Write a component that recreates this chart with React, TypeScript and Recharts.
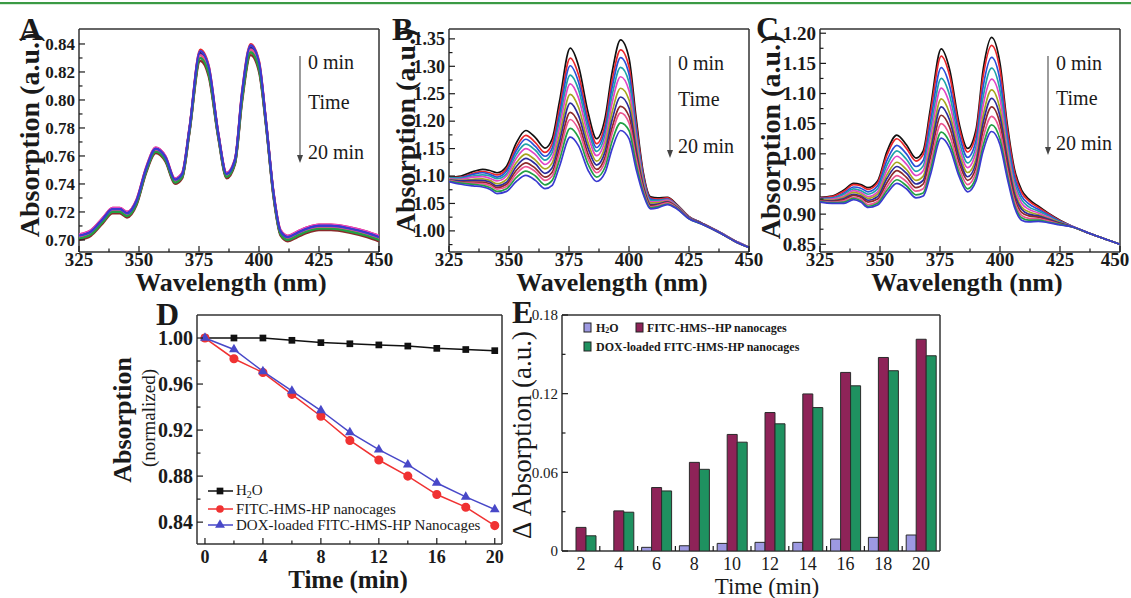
import React from "react";
import { LineChart, Line, BarChart, Bar, XAxis, YAxis, CartesianGrid, Symbols } from "recharts";

const SERIF = '"Liberation Serif", "Times New Roman", Times, serif';
const INK = "#1a1a1a";

// ---------- spectra panels A, B, C ----------
const wavelengths = [325, 330, 335, 339, 342, 345, 349, 353, 357, 361, 365, 368, 371, 375.5, 379, 383, 386.5, 390, 393, 396.5, 400, 403, 406, 409, 412, 416, 420, 425, 430, 438, 445, 450];
const spectraTimes = ["0 min", "2 min", "4 min", "6 min", "8 min", "10 min", "12 min", "14 min", "16 min", "18 min", "20 min"];
const spectraColors = ["#111111", "#e8262b", "#2b4fd8", "#1fa3a8", "#e045c6", "#a6a61e", "#2c2c9c", "#8b2a2a", "#ec5590", "#22a044", "#3a3ad0"];
const wlMajor = [325, 350, 375, 400, 425, 450];
const wlMinor = [337.5, 362.5, 387.5, 412.5, 437.5];

// one row per wavelength, columns 0 min -> 20 min
const absA = [
  [0.703, 0.704, 0.701, 0.702, 0.704, 0.701, 0.703, 0.700, 0.702, 0.701, 0.703],
  [0.706, 0.707, 0.704, 0.705, 0.707, 0.704, 0.706, 0.703, 0.705, 0.704, 0.706],
  [0.715, 0.716, 0.713, 0.714, 0.716, 0.713, 0.715, 0.712, 0.714, 0.713, 0.715],
  [0.722, 0.723, 0.720, 0.721, 0.723, 0.720, 0.722, 0.719, 0.721, 0.720, 0.722],
  [0.722, 0.723, 0.720, 0.721, 0.723, 0.720, 0.722, 0.719, 0.721, 0.720, 0.722],
  [0.719, 0.720, 0.717, 0.718, 0.720, 0.717, 0.719, 0.716, 0.718, 0.717, 0.719],
  [0.728, 0.729, 0.726, 0.727, 0.729, 0.726, 0.728, 0.725, 0.727, 0.726, 0.728],
  [0.751, 0.752, 0.749, 0.750, 0.752, 0.749, 0.751, 0.748, 0.750, 0.749, 0.751],
  [0.765, 0.766, 0.763, 0.764, 0.766, 0.763, 0.765, 0.762, 0.764, 0.763, 0.765],
  [0.759, 0.760, 0.757, 0.758, 0.760, 0.757, 0.759, 0.756, 0.758, 0.757, 0.759],
  [0.743, 0.744, 0.741, 0.742, 0.744, 0.741, 0.743, 0.740, 0.742, 0.741, 0.743],
  [0.747, 0.748, 0.745, 0.746, 0.748, 0.745, 0.747, 0.744, 0.746, 0.745, 0.747],
  [0.779, 0.780, 0.777, 0.778, 0.780, 0.777, 0.779, 0.776, 0.778, 0.777, 0.779],
  [0.834, 0.836, 0.830, 0.832, 0.835, 0.830, 0.833, 0.828, 0.832, 0.830, 0.835],
  [0.823, 0.825, 0.819, 0.821, 0.824, 0.819, 0.822, 0.817, 0.821, 0.819, 0.824],
  [0.776, 0.777, 0.774, 0.775, 0.777, 0.774, 0.776, 0.773, 0.775, 0.774, 0.776],
  [0.747, 0.748, 0.745, 0.746, 0.748, 0.745, 0.747, 0.744, 0.746, 0.745, 0.747],
  [0.757, 0.758, 0.755, 0.756, 0.758, 0.755, 0.757, 0.754, 0.756, 0.755, 0.757],
  [0.805, 0.807, 0.801, 0.803, 0.806, 0.801, 0.804, 0.799, 0.803, 0.801, 0.806],
  [0.838, 0.840, 0.834, 0.836, 0.839, 0.834, 0.837, 0.832, 0.836, 0.834, 0.839],
  [0.826, 0.828, 0.822, 0.824, 0.827, 0.822, 0.825, 0.820, 0.824, 0.822, 0.827],
  [0.783, 0.784, 0.781, 0.782, 0.784, 0.781, 0.783, 0.780, 0.782, 0.781, 0.783],
  [0.734, 0.735, 0.732, 0.733, 0.735, 0.732, 0.734, 0.731, 0.733, 0.732, 0.734],
  [0.706, 0.707, 0.704, 0.705, 0.707, 0.704, 0.706, 0.703, 0.705, 0.704, 0.706],
  [0.702, 0.703, 0.700, 0.701, 0.703, 0.700, 0.702, 0.699, 0.701, 0.700, 0.702],
  [0.705, 0.706, 0.703, 0.704, 0.706, 0.703, 0.705, 0.702, 0.704, 0.703, 0.705],
  [0.708, 0.709, 0.706, 0.707, 0.709, 0.706, 0.708, 0.705, 0.707, 0.706, 0.708],
  [0.710, 0.711, 0.708, 0.709, 0.711, 0.708, 0.710, 0.707, 0.709, 0.708, 0.710],
  [0.710, 0.711, 0.708, 0.709, 0.711, 0.708, 0.710, 0.707, 0.709, 0.708, 0.710],
  [0.708, 0.709, 0.706, 0.707, 0.709, 0.706, 0.708, 0.705, 0.707, 0.706, 0.708],
  [0.705, 0.706, 0.703, 0.704, 0.706, 0.703, 0.705, 0.702, 0.704, 0.703, 0.705],
  [0.702, 0.703, 0.700, 0.701, 0.703, 0.700, 0.702, 0.699, 0.701, 0.700, 0.702],
];

const absB = [
  [1.098, 1.097, 1.096, 1.096, 1.095, 1.094, 1.093, 1.092, 1.092, 1.091, 1.090],
  [1.100, 1.098, 1.097, 1.096, 1.094, 1.092, 1.091, 1.089, 1.088, 1.087, 1.085],
  [1.108, 1.105, 1.103, 1.100, 1.098, 1.094, 1.092, 1.089, 1.087, 1.085, 1.082],
  [1.112, 1.108, 1.106, 1.102, 1.099, 1.095, 1.092, 1.089, 1.086, 1.083, 1.080],
  [1.110, 1.106, 1.103, 1.100, 1.096, 1.092, 1.089, 1.086, 1.083, 1.079, 1.076],
  [1.106, 1.102, 1.098, 1.095, 1.091, 1.086, 1.082, 1.079, 1.076, 1.072, 1.068],
  [1.118, 1.113, 1.109, 1.104, 1.100, 1.094, 1.089, 1.085, 1.081, 1.077, 1.072],
  [1.160, 1.152, 1.146, 1.139, 1.132, 1.124, 1.117, 1.110, 1.104, 1.097, 1.090],
  [1.183, 1.174, 1.167, 1.158, 1.150, 1.140, 1.132, 1.124, 1.117, 1.109, 1.101],
  [1.170, 1.161, 1.154, 1.147, 1.139, 1.129, 1.122, 1.114, 1.108, 1.100, 1.092],
  [1.151, 1.143, 1.136, 1.129, 1.121, 1.113, 1.105, 1.098, 1.092, 1.084, 1.077],
  [1.168, 1.159, 1.151, 1.143, 1.134, 1.124, 1.115, 1.107, 1.100, 1.092, 1.083],
  [1.235, 1.222, 1.211, 1.200, 1.188, 1.174, 1.162, 1.150, 1.141, 1.129, 1.117],
  [1.333, 1.315, 1.301, 1.284, 1.268, 1.249, 1.233, 1.216, 1.203, 1.187, 1.171],
  [1.300, 1.284, 1.271, 1.257, 1.242, 1.225, 1.210, 1.196, 1.184, 1.170, 1.155],
  [1.215, 1.203, 1.194, 1.184, 1.173, 1.160, 1.150, 1.139, 1.131, 1.121, 1.110],
  [1.168, 1.159, 1.152, 1.145, 1.137, 1.127, 1.120, 1.112, 1.106, 1.098, 1.090],
  [1.205, 1.194, 1.185, 1.175, 1.165, 1.154, 1.144, 1.134, 1.126, 1.116, 1.106],
  [1.290, 1.275, 1.262, 1.248, 1.234, 1.217, 1.203, 1.189, 1.178, 1.164, 1.150],
  [1.348, 1.330, 1.316, 1.298, 1.281, 1.260, 1.244, 1.227, 1.215, 1.197, 1.183],
  [1.315, 1.299, 1.286, 1.271, 1.256, 1.239, 1.224, 1.209, 1.197, 1.183, 1.168],
  [1.205, 1.195, 1.186, 1.177, 1.168, 1.157, 1.147, 1.138, 1.131, 1.121, 1.112],
  [1.105, 1.101, 1.097, 1.093, 1.089, 1.085, 1.081, 1.077, 1.074, 1.070, 1.066],
  [1.062, 1.060, 1.058, 1.055, 1.053, 1.051, 1.048, 1.046, 1.044, 1.042, 1.040],
  [1.060, 1.058, 1.056, 1.055, 1.053, 1.051, 1.049, 1.047, 1.046, 1.044, 1.042],
  [1.061, 1.060, 1.058, 1.057, 1.056, 1.054, 1.053, 1.052, 1.051, 1.049, 1.048],
  [1.048, 1.047, 1.046, 1.046, 1.045, 1.044, 1.043, 1.042, 1.042, 1.041, 1.040],
  [1.026, 1.026, 1.025, 1.025, 1.024, 1.024, 1.024, 1.023, 1.023, 1.022, 1.022],
  [1.015, 1.015, 1.015, 1.014, 1.014, 1.014, 1.014, 1.014, 1.013, 1.013, 1.013],
  [0.997, 0.997, 0.997, 0.997, 0.997, 0.996, 0.996, 0.996, 0.996, 0.996, 0.996],
  [0.980, 0.980, 0.980, 0.980, 0.980, 0.979, 0.979, 0.979, 0.979, 0.979, 0.979],
  [0.970, 0.970, 0.970, 0.970, 0.970, 0.970, 0.970, 0.970, 0.970, 0.970, 0.970],
];

const absC = [
  [0.928, 0.927, 0.926, 0.925, 0.924, 0.924, 0.923, 0.922, 0.921, 0.921, 0.920],
  [0.930, 0.929, 0.927, 0.926, 0.925, 0.923, 0.922, 0.921, 0.920, 0.919, 0.918],
  [0.940, 0.938, 0.935, 0.933, 0.930, 0.928, 0.926, 0.924, 0.922, 0.920, 0.918],
  [0.951, 0.949, 0.945, 0.942, 0.939, 0.936, 0.933, 0.931, 0.928, 0.926, 0.924],
  [0.949, 0.947, 0.943, 0.939, 0.936, 0.933, 0.930, 0.928, 0.925, 0.922, 0.920],
  [0.944, 0.941, 0.937, 0.933, 0.929, 0.926, 0.923, 0.920, 0.916, 0.913, 0.911],
  [0.955, 0.952, 0.947, 0.942, 0.937, 0.933, 0.929, 0.925, 0.921, 0.918, 0.915],
  [1.005, 0.999, 0.990, 0.982, 0.974, 0.966, 0.960, 0.953, 0.946, 0.940, 0.935],
  [1.031, 1.025, 1.014, 1.005, 0.996, 0.986, 0.979, 0.972, 0.964, 0.957, 0.951],
  [1.015, 1.009, 1.000, 0.991, 0.983, 0.974, 0.968, 0.961, 0.954, 0.947, 0.942],
  [0.993, 0.988, 0.979, 0.971, 0.964, 0.956, 0.950, 0.944, 0.938, 0.932, 0.927],
  [1.005, 0.999, 0.989, 0.980, 0.972, 0.963, 0.956, 0.950, 0.942, 0.935, 0.930],
  [1.075, 1.066, 1.052, 1.039, 1.027, 1.013, 1.004, 0.994, 0.983, 0.973, 0.965],
  [1.174, 1.162, 1.143, 1.125, 1.109, 1.091, 1.078, 1.064, 1.050, 1.036, 1.026],
  [1.140, 1.130, 1.113, 1.097, 1.083, 1.067, 1.056, 1.044, 1.031, 1.019, 1.010],
  [1.050, 1.043, 1.032, 1.021, 1.011, 1.001, 0.993, 0.985, 0.976, 0.968, 0.962],
  [1.009, 1.003, 0.994, 0.985, 0.977, 0.969, 0.962, 0.956, 0.949, 0.942, 0.937],
  [1.040, 1.033, 1.022, 1.012, 1.003, 0.992, 0.985, 0.977, 0.969, 0.961, 0.955],
  [1.140, 1.129, 1.112, 1.095, 1.081, 1.064, 1.052, 1.040, 1.027, 1.014, 1.005],
  [1.193, 1.180, 1.160, 1.142, 1.124, 1.106, 1.092, 1.078, 1.062, 1.048, 1.037],
  [1.150, 1.139, 1.122, 1.105, 1.091, 1.074, 1.062, 1.050, 1.037, 1.024, 1.015],
  [1.050, 1.043, 1.031, 1.020, 1.010, 1.000, 0.992, 0.983, 0.974, 0.966, 0.960],
  [0.975, 0.970, 0.962, 0.954, 0.947, 0.940, 0.934, 0.928, 0.922, 0.916, 0.912],
  [0.940, 0.936, 0.930, 0.924, 0.918, 0.912, 0.908, 0.903, 0.898, 0.894, 0.890],
  [0.925, 0.922, 0.917, 0.912, 0.908, 0.904, 0.900, 0.897, 0.893, 0.890, 0.887],
  [0.913, 0.911, 0.908, 0.905, 0.902, 0.899, 0.897, 0.895, 0.892, 0.890, 0.888],
  [0.902, 0.901, 0.899, 0.897, 0.895, 0.893, 0.892, 0.890, 0.889, 0.887, 0.886],
  [0.890, 0.889, 0.888, 0.887, 0.886, 0.886, 0.885, 0.884, 0.883, 0.883, 0.882],
  [0.880, 0.880, 0.880, 0.880, 0.880, 0.879, 0.879, 0.879, 0.879, 0.879, 0.879],
  [0.867, 0.867, 0.867, 0.867, 0.867, 0.867, 0.867, 0.867, 0.867, 0.867, 0.867],
  [0.857, 0.857, 0.857, 0.857, 0.857, 0.857, 0.857, 0.857, 0.857, 0.857, 0.857],
  [0.850, 0.850, 0.850, 0.850, 0.850, 0.850, 0.850, 0.850, 0.850, 0.850, 0.850],
];

const yMajorA = [0.70, 0.72, 0.74, 0.76, 0.78, 0.80, 0.82, 0.84];
const yMinorA = [0.71, 0.73, 0.75, 0.77, 0.79, 0.81, 0.83];
const yMajorB = [1.00, 1.05, 1.10, 1.15, 1.20, 1.25, 1.30, 1.35];
const yMinorB = [0.975, 1.025, 1.075, 1.125, 1.175, 1.225, 1.275, 1.325];
const yMajorC = [0.85, 0.90, 0.95, 1.00, 1.05, 1.10, 1.15, 1.20];
const yMinorC = [0.875, 0.925, 0.975, 1.025, 1.075, 1.125, 1.175];

// ---------- panel D ----------
const dTimes = [0, 2, 4, 6, 8, 10, 12, 14, 16, 18, 20];
const dH2O = [1.000, 1.000, 1.000, 0.998, 0.996, 0.995, 0.994, 0.993, 0.991, 0.990, 0.989];
const dFITC = [1.000, 0.982, 0.970, 0.951, 0.932, 0.911, 0.894, 0.880, 0.864, 0.853, 0.837];
const dDOX = [1.000, 0.990, 0.971, 0.954, 0.937, 0.918, 0.903, 0.890, 0.874, 0.862, 0.851];
const dNames = ["H2O", "FITC-HMS-HP nanocages", "DOX-loaded FITC-HMS-HP Nanocages"];
const dXMajor = [0, 4, 8, 12, 16, 20];
const dXMinor = [2, 6, 10, 14, 18];
const dYMajor = [0.84, 0.88, 0.92, 0.96, 1.00];
const dYMinor = [0.86, 0.90, 0.94, 0.98];

// ---------- panel E ----------
const eTimes = ["2", "4", "6", "8", "10", "12", "14", "16", "18", "20"];
const eH2O = [0, 0, 0.0028, 0.0040, 0.0058, 0.0066, 0.0066, 0.0091, 0.0104, 0.0122];
const eFITC = [0.0180, 0.0306, 0.0484, 0.0676, 0.0889, 0.1056, 0.1198, 0.1362, 0.1476, 0.1615];
const eDOX = [0.0116, 0.0296, 0.0458, 0.0623, 0.0830, 0.0970, 0.1094, 0.1260, 0.1375, 0.1489];
const eNames = ["H2O", "FITC-HMS--HP nanocages", "DOX-loaded FITC-HMS-HP nanocages"];
const eYMajor = [0, 0.06, 0.12, 0.18];
const eYMinor = [0.03, 0.09, 0.15];

const eColors = ["#9d99e2", "#8e2358", "#1f9160"];

// ---------- helpers ----------
const sorted = (a: number[], b: number[]) => [...a, ...b].sort((x, y) => x - y);
const isIn = (list: number[], v: number) => list.some((m) => Math.abs(m - v) < 1e-9);
const fmt2 = (v: number) => v.toFixed(2);

const frameH = ({ offset }: any) => [offset.top, offset.top + offset.height];
const frameV = ({ offset }: any) => [offset.left, offset.left + offset.width];

type TickOpts = { fontSize: number; bold?: boolean; lastDx?: number };

const bottomTick =
  (plotBottom: number, majors: number[], dy: number, fmt: (v: number) => string, o: TickOpts) =>
  (props: any) => {
    const { x, payload } = props;
    const v = payload.value as number;
    const major = isIn(majors, v);
    const dx = v === majors[majors.length - 1] ? o.lastDx || 0 : 0;
    return (
      <g>
        <line x1={x} x2={x} y1={plotBottom} y2={plotBottom - (major ? 6 : 3.5)} stroke={INK} strokeWidth={1.2} />
        {major && (
          <text
            x={x + dx}
            y={plotBottom + dy}
            textAnchor="middle"
            fontSize={o.fontSize}
            fontWeight={o.bold ? "bold" : "normal"}
            fontFamily={SERIF}
            fill={INK}
          >
            {fmt(v)}
          </text>
        )}
      </g>
    );
  };

const leftTick =
  (plotLeft: number, majors: number[], fmt: (v: number) => string, o: TickOpts) =>
  (props: any) => {
    const { y, payload } = props;
    const v = payload.value as number;
    const major = isIn(majors, v);
    return (
      <g>
        <line x1={plotLeft} x2={plotLeft + (major ? 6 : 3.5)} y1={y} y2={y} stroke={INK} strokeWidth={1.2} />
        {major && (
          <text
            x={plotLeft - 4}
            y={y}
            dy="0.35em"
            textAnchor="end"
            fontSize={o.fontSize}
            fontWeight={o.bold ? "bold" : "normal"}
            fontFamily={SERIF}
            fill={INK}
          >
            {fmt(v)}
          </text>
        )}
      </g>
    );
  };

// spectra chart geometry
const SPEC_W = 400;
const SPEC_H = 300;
const SPEC_L = 79;
const SPEC_T = 29;
const SPEC_B = 252;

type SpecProps = {
  left: number;
  rows: number[][];
  domain: [number, number];
  yMajor: number[];
  yMinor: number[];
  yFont: number;
  width?: number;
  lastDx?: number;
  lineWidth?: number;
};

function SpectrumPanel({ left, rows, domain, yMajor, yMinor, yFont, width = SPEC_W, lastDx = 0, lineWidth = 1.7 }: SpecProps) {
  const data = wavelengths.map((w, i) => {
    const row: Record<string, number> = { w };
    rows[i].forEach((v, k) => {
      row["c" + k] = v;
    });
    return row;
  });
  return (
    <div style={{ position: "absolute", left, top: 0 }}>
      <LineChart width={width} height={SPEC_H} data={data} margin={{ top: SPEC_T, right: width - SPEC_L - 300, bottom: 0, left: 0 }}>
        <CartesianGrid horizontalCoordinatesGenerator={frameH} verticalCoordinatesGenerator={frameV} stroke="#333" strokeWidth={1.5} />
        <XAxis
          dataKey="w"
          type="number"
          domain={[325, 450]}
          ticks={sorted(wlMajor, wlMinor)}
          interval={0}
          height={SPEC_H - SPEC_B}
          axisLine={false}
          tickLine={false}
          allowDataOverflow
          tick={bottomTick(SPEC_B, wlMajor, 14, (v) => String(v), { fontSize: 19, bold: true, lastDx })}
        />
        <YAxis
          type="number"
          domain={domain}
          ticks={sorted(yMajor, yMinor)}
          interval={0}
          width={SPEC_L}
          axisLine={false}
          tickLine={false}
          allowDataOverflow
          tick={leftTick(SPEC_L, yMajor, fmt2, { fontSize: yFont, bold: true })}
        />
        {spectraTimes.map((t, k) => (
          <Line
            key={t}
            dataKey={"c" + k}
            name={t}
            type="monotone"
            stroke={spectraColors[k]}
            strokeWidth={lineWidth}
            dot={false}
            isAnimationActive={false}
          />
        ))}
      </LineChart>
    </div>
  );
}

const squareDot = (color: string) => (p: any) =>
  <Symbols key={"sq" + p.index} cx={p.cx} cy={p.cy} type="square" size={45} fill={color} stroke="none" />;
const triDot = (color: string) => (p: any) =>
  <Symbols key={"tr" + p.index} cx={p.cx} cy={p.cy} type="triangle" size={42} fill={color} stroke="none" />;

function DecayPanel() {
  const data = dTimes.map((t, i) => ({ t, h2o: dH2O[i], fitc: dFITC[i], dox: dDOX[i] }));
  return (
    <div style={{ position: "absolute", left: 100, top: 300 }}>
      <LineChart width={415} height={298} data={data} margin={{ top: 15, right: 13, bottom: 0, left: 0 }}>
        <CartesianGrid horizontalCoordinatesGenerator={frameH} verticalCoordinatesGenerator={frameV} stroke="#333" strokeWidth={1.5} />
        <XAxis
          dataKey="t"
          type="number"
          domain={[-0.55, 20.5]}
          ticks={sorted(dXMajor, dXMinor)}
          interval={0}
          height={54}
          axisLine={false}
          tickLine={false}
          allowDataOverflow
          tick={bottomTick(244, dXMajor, 19, (v) => String(v), { fontSize: 18, bold: true })}
        />
        <YAxis
          type="number"
          domain={[0.821, 1.02]}
          ticks={sorted(dYMajor, dYMinor)}
          interval={0}
          width={97}
          axisLine={false}
          tickLine={false}
          allowDataOverflow
          tick={leftTick(97, dYMajor, fmt2, { fontSize: 20, bold: true })}
        />
        <Line dataKey="h2o" name={dNames[0]} stroke="#111" strokeWidth={1.5} dot={squareDot("#111")} isAnimationActive={false} />
        <Line dataKey="fitc" name={dNames[1]} stroke="#f03232" strokeWidth={1.5} dot={{ r: 3.8, fill: "#f03232", stroke: "#f03232" }} isAnimationActive={false} />
        <Line dataKey="dox" name={dNames[2]} stroke="#4848c8" strokeWidth={1.5} dot={triDot("#4848c8")} isAnimationActive={false} />
      </LineChart>
    </div>
  );
}

const E_PLOT_W = 378;

function BarPanel() {
  const data = eTimes.map((t, i) => ({ t, h2o: eH2O[i], fitc: eFITC[i], dox: eDOX[i] }));
  const band = E_PLOT_W / eTimes.length;
  const catTick = (props: any) => {
    const { x, index } = props;
    return (
      <g>
        {index < eTimes.length - 1 && (
          <line x1={x + band / 2} x2={x + band / 2} y1={251} y2={246} stroke={INK} strokeWidth={1.2} />
        )}
        <text x={x} y={270} textAnchor="middle" fontSize={18} fontFamily={SERIF} fill={INK}>
          {props.payload.value}
        </text>
      </g>
    );
  };
  return (
    <div style={{ position: "absolute", left: 510, top: 300 }}>
      <BarChart width={440} height={298} data={data} margin={{ top: 15, right: 10, bottom: 0, left: 0 }} barCategoryGap={4} barGap={0}>
        <CartesianGrid horizontalCoordinatesGenerator={frameH} verticalCoordinatesGenerator={frameV} stroke="#333" strokeWidth={1.5} />
        <XAxis dataKey="t" height={47} interval={0} axisLine={false} tickLine={false} tick={catTick} />
        <YAxis
          type="number"
          domain={[0, 0.18]}
          ticks={sorted(eYMajor, eYMinor)}
          interval={0}
          width={52}
          axisLine={false}
          tickLine={false}
          allowDataOverflow
          tick={leftTick(52, eYMajor, (v) => (v === 0 ? "0" : v.toFixed(2)), { fontSize: 15 })}
        />
        <Bar dataKey="h2o" name={eNames[0]} fill={eColors[0]} stroke="#2a2a2a" strokeWidth={1} isAnimationActive={false} />
        <Bar dataKey="fitc" name={eNames[1]} fill={eColors[1]} stroke="#2a2a2a" strokeWidth={1} isAnimationActive={false} />
        <Bar dataKey="dox" name={eNames[2]} fill={eColors[2]} stroke="#2a2a2a" strokeWidth={1} isAnimationActive={false} />
      </BarChart>
    </div>
  );
}

function H2O({ x, y, size, sub }: { x: number; y: number; size: number; sub: number }) {
  return (
    <text x={x} y={y} fontSize={size} fontFamily={SERIF} fill={INK} dominantBaseline="central">
      H<tspan fontSize={sub} dy={4}>2</tspan>
      <tspan dy={-4}>O</tspan>
    </text>
  );
}

function TimeArrow({ x, y1, y2, labels }: { x: number; y1: number; y2: number; labels: number[] }) {
  return (
    <g>
      <line x1={x} x2={x} y1={y1} y2={y2 - 6} stroke="#666" strokeWidth={1.3} />
      <polygon points={`${x},${y2} ${x - 3},${y2 - 8} ${x + 3},${y2 - 8}`} fill="#444" />
      {[spectraTimes[0], "Time", spectraTimes[spectraTimes.length - 1]].map((t, i) => (
        <text key={t} x={x + 8} y={labels[i]} fontSize={20} fontFamily={SERIF} fill={INK} dominantBaseline="central">
          {t}
        </text>
      ))}
    </g>
  );
}

function Overlay() {
  const txt = { fontFamily: SERIF, fill: INK };
  return (
    <svg width={1131} height={598} style={{ position: "absolute", left: 0, top: 0, pointerEvents: "none" }}>
      <rect x={0} y={2} width={1131} height={2.2} fill="#3a9a44" />
      {/* panel letters */}
      <text x={19} y={40} fontSize={32} fontWeight="bold" {...txt}>A</text>
      <text x={392} y={40} fontSize={32} fontWeight="bold" {...txt}>B</text>
      <text x={756} y={39} fontSize={32} fontWeight="bold" {...txt}>C</text>
      <text x={156} y={325} fontSize={32} fontWeight="bold" {...txt}>D</text>
      <text x={512} y={323} fontSize={32} fontWeight="bold" {...txt}>E</text>
      {/* spectra axis titles */}
      {[
        { yx: 29, yy: 135, xx: 231 },
        { yx: 405, yy: 131, xx: 612 },
        { yx: 770, yy: 137, xx: 967 },
      ].map((p, i) => (
        <g key={i}>
          <text transform={`translate(${p.yx},${p.yy}) rotate(-90)`} textAnchor="middle" dominantBaseline="central" fontSize={28} fontWeight="bold" {...txt}>
            Absorption (a.u.)
          </text>
          <text x={p.xx} y={291} textAnchor="middle" fontSize={26} fontWeight="bold" {...txt}>
            Wavelength (nm)
          </text>
        </g>
      ))}
      <TimeArrow x={300} y1={56} y2={163} labels={[62, 102, 152]} />
      <TimeArrow x={670} y1={56} y2={158} labels={[63, 99, 146]} />
      <TimeArrow x={1048} y1={56} y2={155} labels={[63, 98, 143]} />
      {/* panel D titles */}
      <text transform="translate(122,420) rotate(-90)" textAnchor="middle" dominantBaseline="central" fontSize={26} fontWeight="bold" {...txt}>
        Absorption
      </text>
      <text transform="translate(148,418) rotate(-90)" textAnchor="middle" dominantBaseline="central" fontSize={19} {...txt}>
        (normalized)
      </text>
      <text x={348} y={588} textAnchor="middle" fontSize={25} fontWeight="bold" {...txt}>Time (min)</text>
      {/* panel D legend */}
      <line x1={208} x2={233} y1={491} y2={491} stroke="#111" strokeWidth={1.5} />
      <Symbols cx={220} cy={491} type="square" size={45} fill="#111" />
      <H2O x={236} y={490} size={15} sub={10} />
      <line x1={208} x2={233} y1={509} y2={509} stroke="#f03232" strokeWidth={1.5} />
      <circle cx={220} cy={509} r={3.8} fill="#f03232" />
      <text x={236} y={509} fontSize={15} dominantBaseline="central" {...txt}>{dNames[1]}</text>
      <line x1={208} x2={233} y1={525} y2={525} stroke="#4848c8" strokeWidth={1.5} />
      <Symbols cx={220} cy={525} type="triangle" size={42} fill="#4848c8" />
      <text x={236} y={525} fontSize={15} dominantBaseline="central" {...txt}>{dNames[2]}</text>
      {/* panel E titles */}
      <text transform="translate(522,435) rotate(-90)" textAnchor="middle" dominantBaseline="central" fontSize={27} {...txt}>
        Δ Absorption (a.u.)
      </text>
      <text x={767} y={594} textAnchor="middle" fontSize={23} {...txt}>Time (min)</text>
      {/* panel E legend */}
      <rect x={584} y={323} width={7} height={9} fill={eColors[0]} stroke="#222" strokeWidth={1} />
      <text x={596} y={328} fontSize={12} fontWeight="bold" dominantBaseline="central" {...txt}>
        H<tspan fontSize={8} dy={2}>2</tspan>
        <tspan dy={-2}>O</tspan>
      </text>
      <rect x={636} y={323} width={7} height={9} fill={eColors[1]} stroke="#222" strokeWidth={1} />
      <text x={647} y={328} fontSize={12} fontWeight="bold" dominantBaseline="central" {...txt}>{eNames[1]}</text>
      <rect x={584} y={342} width={7} height={9} fill={eColors[2]} stroke="#222" strokeWidth={1} />
      <text x={596} y={347} fontSize={12} fontWeight="bold" dominantBaseline="central" {...txt}>{eNames[2]}</text>
    </svg>
  );
}

export default function App() {
  return (
    <div style={{ position: "absolute", left: 0, top: 0, width: 1131, height: 598, background: "#fff", overflow: "hidden" }}>
      <SpectrumPanel left={0} rows={absA} domain={[0.6914, 0.8507]} yMajor={yMajorA} yMinor={yMinorA} yFont={17} lineWidth={2.2} />
      <SpectrumPanel left={370} rows={absB} domain={[0.9615, 1.368]} yMajor={yMajorB} yMinor={yMinorB} yFont={18} />
      <SpectrumPanel left={741} rows={absC} domain={[0.8372, 1.207]} yMajor={yMajorC} yMinor={yMinorC} yFont={19} width={390} lastDx={-5} />
      <DecayPanel />
      <BarPanel />
      <Overlay />
    </div>
  );
}
